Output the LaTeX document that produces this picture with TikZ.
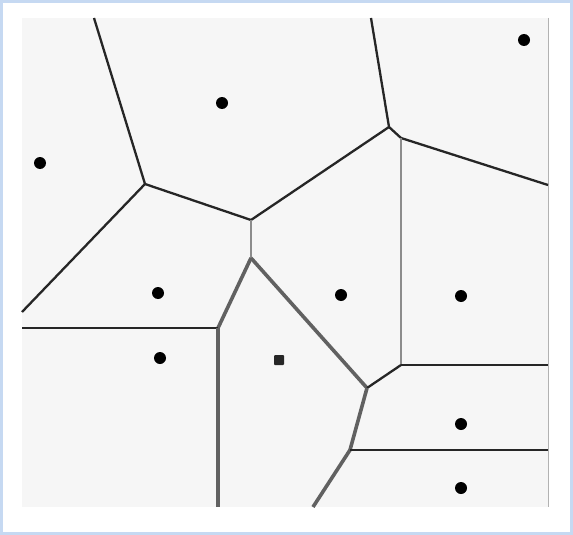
\documentclass[tikz,border=0pt]{standalone}
\definecolor{frameblue}{RGB}{198,217,242}
\definecolor{paper}{RGB}{246,246,246}
\tikzset{
  site/.style={circle,fill=black,inner sep=0pt,minimum size=12pt},
  sqsite/.style={rectangle,rounded corners=1pt,fill=black!85,inner sep=0pt,minimum size=10pt},
  edge/.style={draw=black!85,line width=2.3pt},
  heavy/.style={draw=black!62,line width=3.6pt},
  faint/.style={draw=black!45,line width=1.4pt},
}
\begin{document}
\begin{tikzpicture}[x=1pt,y=-1pt]
\useasboundingbox (0,0) rectangle (573,535);
\fill[frameblue] (0,0) rectangle (573,535);
\fill[white] (3,3) rectangle (570,532);
\fill[paper] (22,18) rectangle (548,507);
\draw[black!30,line width=0.8pt] (548,18) -- (548,507);
% Voronoi vertices
\coordinate (A) at (145,184);
\coordinate (B) at (251,220);
\coordinate (C) at (251,258);
\coordinate (D) at (389,127);
\coordinate (E) at (401,138);
\coordinate (F) at (218,328);
\coordinate (G) at (367,388);
\coordinate (H) at (401,365);
\coordinate (I) at (350,450);
% border ends
\coordinate (tA) at (94,18);
\coordinate (lA) at (22,312);
\coordinate (tD) at (371,18);
\coordinate (rE) at (548,185);
\coordinate (lF) at (22,328);
\coordinate (bF) at (218,507);
\coordinate (rH) at (548,365);
\coordinate (rI) at (548,450);
\coordinate (bI) at (313,507);
% edges
\draw[edge] (tA) -- (A);
\draw[edge] (A) -- (lA);
\draw[edge] (A) -- (B);
\draw[edge] (B) -- (D);
\draw[edge] (tD) -- (D);
\draw[edge] (D) -- (E);
\draw[edge] (E) -- (rE);
\draw[faint] (B) -- (C);
\draw[faint] (E) -- (H);
\draw[heavy] (C) -- (F);
\draw[edge] (F) -- (lF);
\draw[heavy] (F) -- (bF);
\draw[heavy] (C) -- (G);
\draw[edge] (G) -- (H);
\draw[edge] (H) -- (rH);
\draw[heavy] (G) -- (I);
\draw[heavy] (I) -- (bI);
\draw[edge] (I) -- (rI);
% sites
\node[site] (s1) at (40,163) {};
\node[site] (s2) at (222,103) {};
\node[site] (s3) at (524,40) {};
\node[site] (s4) at (158,293) {};
\node[site] (s5) at (341,295) {};
\node[site] (s6) at (461,296) {};
\node[site] (s7) at (160,358) {};
\node[sqsite] (s8) at (279,360) {};
\node[site] (s9) at (461,424) {};
\node[site] (s10) at (461,488) {};
\end{tikzpicture}
\end{document}
